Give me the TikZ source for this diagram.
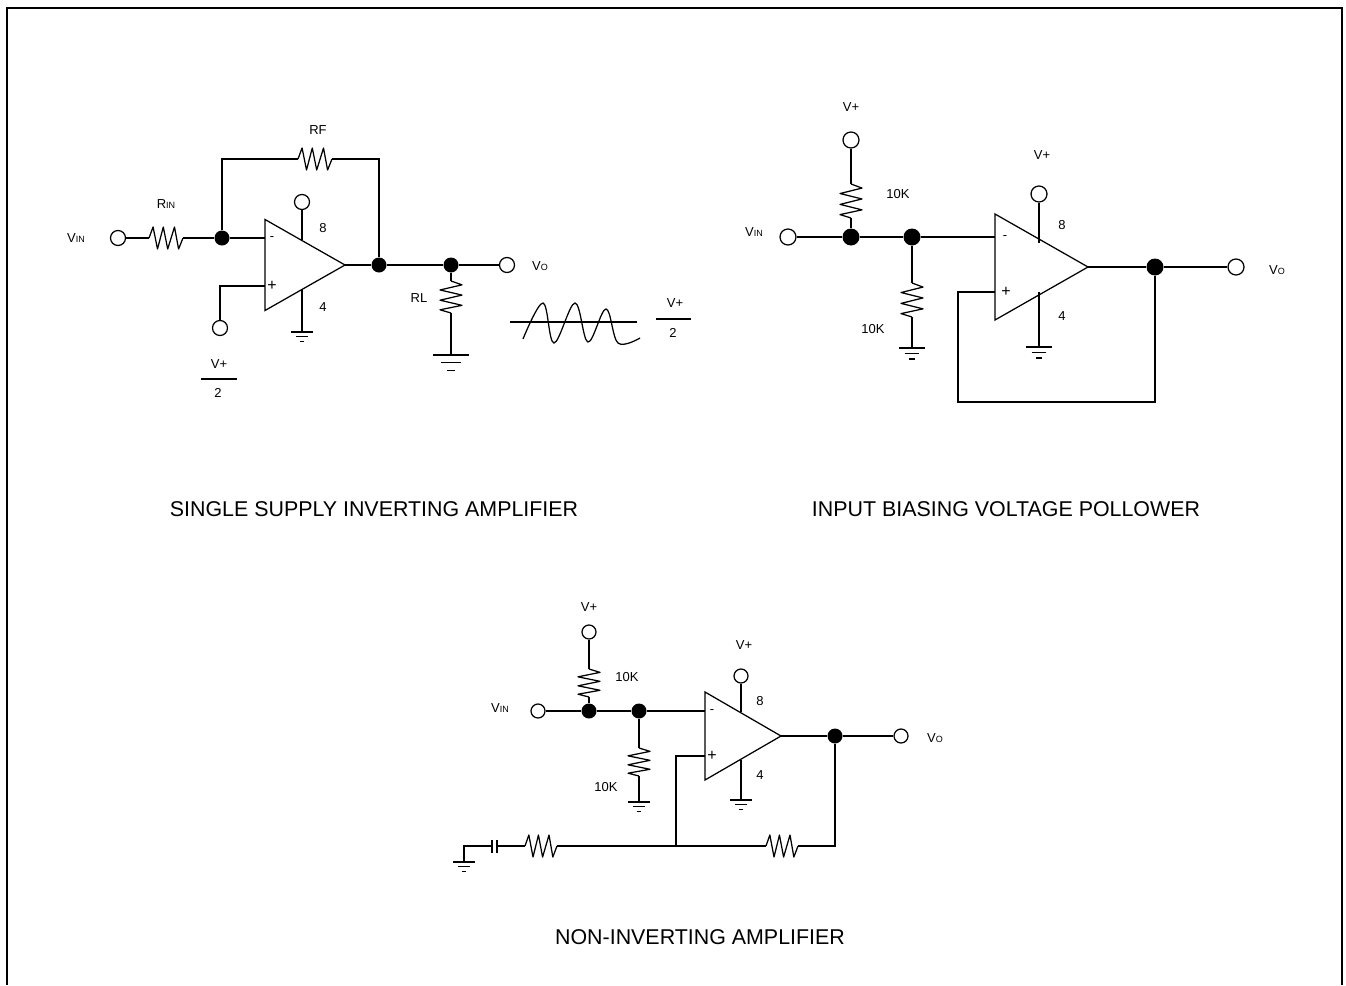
\documentclass[tikz,border=0pt]{standalone}
\usepackage{fontspec}
\setmainfont{Liberation Sans}
\usetikzlibrary{shapes.geometric}
\newcommand{\subtxt}[1]{{\fontsize{9}{10}\selectfont #1}}
\tikzset{
    wire/.style={line width=1.25pt},
    term/.style={circle, draw, fill=white, line width=1.25pt, inner sep=0pt, minimum size=#1},
    term/.default=15pt,
    dot/.style={circle, fill=black, inner sep=0pt, minimum size=#1},
    dot/.default=15pt,
    lbl/.style={inner sep=0pt, font=\fontsize{13}{14}\selectfont},
    title/.style={inner sep=0pt, font=\fontsize{21.4}{23}\selectfont},
    opamp/.style n args={2}{isosceles triangle, isosceles triangle stretches, draw, line width=1.25pt,
        inner sep=0pt, outer sep=0pt, anchor=apex, minimum width=#1, minimum height=#2},
    resh/.pic={
        \coordinate (-a) at ({-#1/2},0);
        \coordinate (-b) at ({#1/2},0);
        \draw[wire, line join=round] (-a) -- ({-#1*0.38},-11) -- ({-#1*0.25},11) -- ({-#1*0.08},-11)
            -- ({#1*0.05},11) -- ({#1*0.25},-11) -- ({#1*0.37},11) -- (-b);
    },
    resv/.pic={
        \coordinate (-a) at (0,{-#1/2});
        \coordinate (-b) at (0,{#1/2});
        \draw[wire, line join=round] (-a) -- (11,{-#1*0.38}) -- (-11,{-#1*0.22}) -- (11,{-#1*0.06})
            -- (-11,{#1*0.1}) -- (11,{#1*0.26}) -- (-11,{#1*0.4}) -- (-b);
    },
    gnd/.pic={
        \coordinate (-top) at (0,0);
        \draw[wire] ({-#1/2},0) -- ({#1/2},0);
        \draw[wire] ({-#1*0.28},{#1*0.21}) -- ({#1*0.28},{#1*0.21});
        \draw[wire] ({-#1*0.11},{#1*0.42}) -- ({#1*0.11},{#1*0.42});
    },
}
\begin{document}
\begin{tikzpicture}[x=1pt, y=-1pt]
    \useasboundingbox (0,0) rectangle (1346,985);
    \draw[wire] (7,985) -- (7,8) -- (1342,8) -- (1342,985);

    % single supply inverting amplifier
    \node[opamp={91pt}{80pt}] (opa) at (345,265) {};
    \node[lbl] (opaminus) at (272,239) {-};
    \node[lbl, font=\fontsize{16}{16}\selectfont] (opaplus) at (272,286) {+};
    \node[lbl] (avin) at (76,238) {V\subtxt{IN}};
    \node[term] (atin) at (118,238) {};
    \pic (arin) at (166,238) {resh=34};
    \node[lbl] (arinl) at (166,204) {R\subtxt{IN}};
    \node[dot] (ad1) at (222,238) {};
    \pic (arf) at (315,159) {resh=34};
    \node[lbl] (arfl) at (318,130) {RF};
    \node[dot] (ad2) at (379,265) {};
    \node[dot] (ad3) at (451,265) {};
    \node[term] (atout) at (507,265) {};
    \node[lbl] (avo) at (540,266) {V\subtxt{O}};
    \node[term] (at8) at (302,202) {};
    \node[lbl] (a8) at (323,228) {8};
    \node[lbl] (a4) at (323,307) {4};
    \pic (ag1) at (302,332) {gnd=22};
    \node[term] (atref) at (220,328) {};
    \node[lbl] (avp) at (219,364) {V+};
    \node[lbl] (a2) at (218,393) {2};
    \pic (arl) at (451,297) {resv=32};
    \node[lbl] (arll) at (419,298) {RL};
    \pic (ag2) at (451,355) {gnd=36};
    \node[lbl] (avp2) at (675,303) {V+};
    \node[lbl] (a22) at (673,333) {2};
    \draw[wire] (atin) -- (arin-a);
    \draw[wire] (arin-b) -- (ad1);
    \draw[wire] (ad1) -- (265,238);
    \draw[wire] (ad1) |- (arf-a);
    \draw[wire] (arf-b) -| (ad2);
    \draw[wire] (opa.apex) -- (ad2);
    \draw[wire] (ad2) -- (ad3);
    \draw[wire] (ad3) -- (atout);
    \draw[wire] (ad3) -- (arl-a);
    \draw[wire] (arl-b) -- (ag2-top);
    \draw[wire] (at8) -- (302,240);
    \draw[wire] (302,289) -- (ag1-top);
    \draw[wire] (265,286) -| (atref);
    \draw[wire] (201,379) -- (237,379);
    \draw[wire] (656,319) -- (691,319);
    \draw[wire] (510,322) -- (637,322);
    \draw[wire] plot[smooth, tension=0.6] coordinates {(523,339) (543,303) (554,343) (575,303) (588,342) (606,309) (618,343) (640,338)};
    \node[title] (atitle) at (374,509.5) {SINGLE SUPPLY INVERTING AMPLIFIER};

    % input biasing voltage follower
    \node[opamp={106pt}{93pt}] (opb) at (1088,267) {};
    \node[lbl] (opbminus) at (1005,238) {-};
    \node[lbl, font=\fontsize{16}{16}\selectfont] (opbplus) at (1006,292) {+};
    \node[lbl] (bvin) at (754,232) {V\subtxt{IN}};
    \node[term=16pt] (btin) at (788,237) {};
    \node[dot=17pt] (bd1) at (851,237) {};
    \node[dot=17pt] (bd2) at (912,237) {};
    \node[lbl] (bvp) at (851,107) {V+};
    \node[term=16pt] (btv) at (851,140) {};
    \pic (brt) at (851,201) {resv=34};
    \node[lbl] (brtl) at (898,194) {10K};
    \pic (brb) at (912,300) {resv=34};
    \node[lbl] (brbl) at (873,329) {10K};
    \pic (bg1) at (912,348) {gnd=26};
    \node[term=16pt] (bt8) at (1039,194) {};
    \node[lbl] (bvp2) at (1042,155) {V+};
    \node[lbl] (b8) at (1062,225) {8};
    \node[lbl] (b4) at (1062,316) {4};
    \pic (bg2) at (1039,347) {gnd=26};
    \node[dot=17pt] (bd3) at (1155,267) {};
    \node[term=16pt] (btout) at (1236,267) {};
    \node[lbl] (bvo) at (1277,270) {V\subtxt{O}};
    \draw[wire] (btin) -- (bd1);
    \draw[wire] (bd1) -- (bd2);
    \draw[wire] (bd2) -- (995,237);
    \draw[wire] (btv) -- (brt-a);
    \draw[wire] (brt-b) -- (bd1);
    \draw[wire] (bd2) -- (brb-a);
    \draw[wire] (brb-b) -- (bg1-top);
    \draw[wire] (bt8) -- (1039,243);
    \draw[wire] (1039,292) -- (bg2-top);
    \draw[wire] (opb.apex) -- (bd3);
    \draw[wire] (bd3) -- (btout);
    \draw[wire] (995,292) -- (958,292) -- (958,402) -| (bd3);
    \node[title] (btitle) at (1006,509.5) {INPUT BIASING VOLTAGE POLLOWER};

    % non-inverting amplifier
    \node[opamp={88pt}{76pt}] (opc) at (781,736) {};
    \node[lbl] (opcminus) at (712,712) {-};
    \node[lbl, font=\fontsize{16}{16}\selectfont] (opcplus) at (712,756) {+};
    \node[lbl] (cvin) at (500,708) {V\subtxt{IN}};
    \node[term=14pt] (ctin) at (538,711) {};
    \node[dot] (cd1) at (589,711) {};
    \node[dot] (cd2) at (639,711) {};
    \node[lbl] (cvp) at (589,607) {V+};
    \node[term=14pt] (ctv) at (589,632) {};
    \pic (crt) at (589,683) {resv=28};
    \node[lbl] (crtl) at (627,677) {10K};
    \pic (crb) at (639,762) {resv=28};
    \node[lbl] (crbl) at (606,787) {10K};
    \pic (cg1) at (639,802) {gnd=22};
    \node[term=14pt] (ct8) at (741,676) {};
    \node[lbl] (cvp2) at (744,645) {V+};
    \node[lbl] (c8) at (760,701) {8};
    \node[lbl] (c4) at (760,775) {4};
    \pic (cg2) at (741,800) {gnd=22};
    \node[dot] (cd3) at (835,736) {};
    \node[term=14pt] (ctout) at (901,736) {};
    \node[lbl] (cvo) at (935,738) {V\subtxt{O}};
    \pic (crf) at (782,846) {resh=32};
    \pic (crg) at (541,846) {resh=32};
    \pic (cg3) at (464,862) {gnd=22};
    \draw[wire] (ctin) -- (cd1);
    \draw[wire] (cd1) -- (cd2);
    \draw[wire] (cd2) -- (705,711);
    \draw[wire] (ctv) -- (crt-a);
    \draw[wire] (crt-b) -- (cd1);
    \draw[wire] (cd2) -- (crb-a);
    \draw[wire] (crb-b) -- (cg1-top);
    \draw[wire] (ct8) -- (741,712);
    \draw[wire] (741,760) -- (cg2-top);
    \draw[wire] (opc.apex) -- (cd3);
    \draw[wire] (cd3) -- (ctout);
    \draw[wire] (cd3) |- (crf-b);
    \draw[wire] (crf-a) -- (crg-b);
    \draw[wire] (705,756) -- (676,756) -- (676,846);
    \draw[wire] (crg-a) -- (497,846);
    \draw[wire] (497,840) -- (497,853);
    \draw[wire] (492,840) -- (492,853);
    \draw[wire] (492,846) -| (cg3-top);
    \node[title] (ctitle) at (700,937.5) {NON-INVERTING AMPLIFIER};
\end{tikzpicture}
\end{document}
